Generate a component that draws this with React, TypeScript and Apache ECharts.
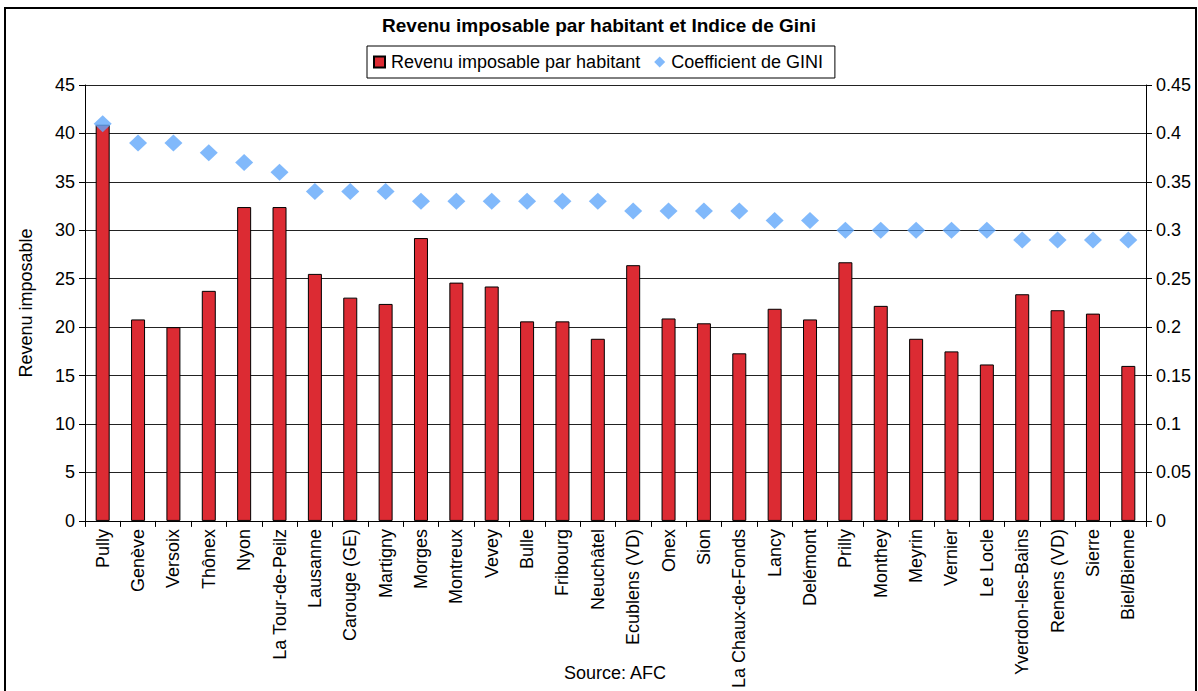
import React, { useEffect, useRef } from "react";
import * as echarts from "echarts";

const categories = [
  "Pully", "Genève", "Versoix", "Thônex", "Nyon", "La Tour-de-Peilz", "Lausanne", "Carouge (GE)",
  "Martigny", "Morges", "Montreux", "Vevey", "Bulle", "Fribourg", "Neuchâtel", "Ecublens (VD)",
  "Onex", "Sion", "La Chaux-de-Fonds", "Lancy", "Delémont", "Prilly", "Monthey", "Meyrin",
  "Vernier", "Le Locle", "Yverdon-les-Bains", "Renens (VD)", "Sierre", "Biel/Bienne",
];

const revenu = [
  40.9, 20.8, 20.0, 23.75, 32.4, 32.4, 25.5, 23.05, 22.4, 29.2, 24.6, 24.2, 20.6, 20.6, 18.8,
  26.4, 20.9, 20.4, 17.3, 21.9, 20.8, 26.7, 22.2, 18.8, 17.5, 16.15, 23.4, 21.75, 21.4, 16.0,
];

const gini = [
  0.41, 0.39, 0.39, 0.38, 0.37, 0.36, 0.34, 0.34, 0.34, 0.33, 0.33, 0.33, 0.33, 0.33, 0.33,
  0.32, 0.32, 0.32, 0.32, 0.31, 0.31, 0.30, 0.30, 0.30, 0.30, 0.30, 0.29, 0.29, 0.29, 0.29,
];

const FONT = "Liberation Sans, Arial, sans-serif";

export default function App() {
  const ref = useRef<HTMLDivElement>(null);
  useEffect(() => {
    if (!ref.current) return;
    const chart = echarts.init(ref.current, null, { renderer: "svg" });
    chart.setOption({
      animation: false,
      backgroundColor: "#ffffff",
      textStyle: { fontFamily: FONT },
      title: {
        text: "Revenu imposable par habitant et Indice de Gini",
        left: "center",
        top: 11,
        textStyle: { fontFamily: FONT, fontSize: 19, fontWeight: "bold", color: "#000" },
      },
      legend: {
        left: 367,
        top: 46,
        borderColor: "#000",
        borderWidth: 1,
        padding: [7, 12, 7, 6],
        itemGap: 14,
        itemWidth: 11,
        itemHeight: 11,
        textStyle: { fontFamily: FONT, fontSize: 18, color: "#000", padding: [0, 0, 0, 1] },
        data: [
          { name: "Revenu imposable par habitant", icon: "rect" },
          { name: "Coefficient de GINI", icon: "diamond" },
        ],
      },
      grid: { left: 85, right: 52, top: 85, bottom: 170, containLabel: false },
      xAxis: {
        type: "category",
        data: categories,
        boundaryGap: true,
        axisLine: { lineStyle: { color: "#000", width: 1 } },
        axisTick: { show: true, length: 6, lineStyle: { color: "#000" } },
        axisLabel: {
          rotate: 90,
          interval: 0,
          margin: 8,
          fontFamily: FONT,
          fontSize: 18,
          color: "#000",
        },
      },
      yAxis: [
        {
          type: "value",
          min: 0,
          max: 45,
          interval: 5,
          name: "Revenu imposable",
          nameLocation: "middle",
          nameGap: 50,
          nameTextStyle: { fontFamily: FONT, fontSize: 18, color: "#000" },
          axisLine: { show: true, lineStyle: { color: "#000" } },
          axisTick: { show: true, length: 6, lineStyle: { color: "#000" } },
          axisLabel: { fontFamily: FONT, fontSize: 18, color: "#000", margin: 10 },
          splitLine: { show: true, lineStyle: { color: "#222", width: 1 } },
        },
        {
          type: "value",
          min: 0,
          max: 0.45,
          interval: 0.05,
          position: "right",
          axisLine: { show: true, lineStyle: { color: "#000" } },
          axisTick: { show: true, length: 6, lineStyle: { color: "#000" } },
          axisLabel: { fontFamily: FONT, fontSize: 18, color: "#000", margin: 10 },
          splitLine: { show: false },
        },
      ],
      series: [
        {
          name: "Revenu imposable par habitant",
          type: "bar",
          data: revenu,
          yAxisIndex: 0,
          barWidth: 14,
          itemStyle: { color: "#dc2b33", borderColor: "#000", borderWidth: 1 },
        },
        {
          name: "Coefficient de GINI",
          type: "scatter",
          data: gini,
          yAxisIndex: 1,
          symbol: "diamond",
          symbolSize: [18, 17],
          itemStyle: { color: "#62a8fa" },
        },
      ],
      graphic: [
        {
          type: "rect",
          shape: { x: 5, y: 8, width: 1191, height: 700 },
          style: { fill: "none", stroke: "#000", lineWidth: 2 },
          silent: true,
        },
        {
          type: "text",
          x: 615,
          y: 673,
          style: {
            text: "Source: AFC",
            fontFamily: FONT,
            fontSize: 18,
            fill: "#000",
            align: "center",
            verticalAlign: "middle",
          },
        },
      ],
    });
    return () => chart.dispose();
  }, []);
  return (
    <div
      ref={ref}
      style={{ position: "fixed", left: 0, top: 0, width: 1198, height: 691 }}
    />
  );
}
